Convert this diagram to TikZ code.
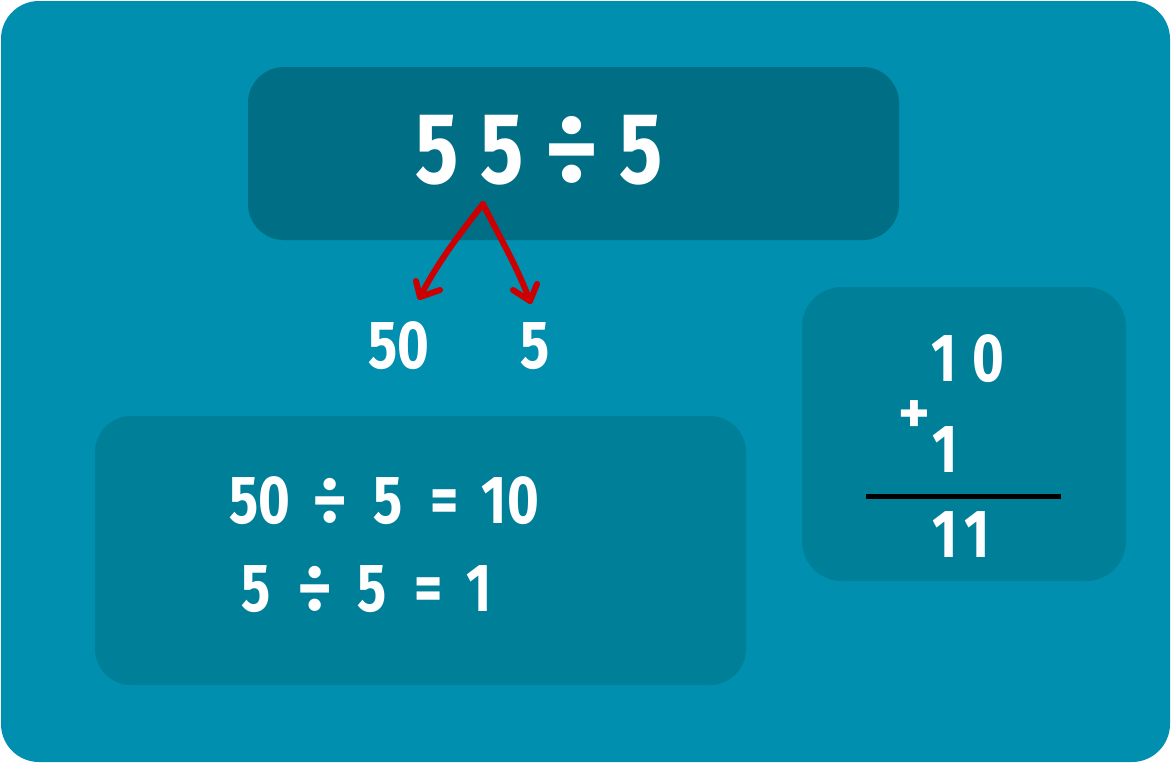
\documentclass[tikz,border=0pt]{standalone}
\usepackage{fontspec}
\setmainfont{Fira Sans}
\usetikzlibrary{calc}
\definecolor{bgc}{RGB}{0,143,175}
\definecolor{topc}{RGB}{0,110,132}
\definecolor{boxc}{RGB}{0,127,153}
\definecolor{arrc}{RGB}{204,0,0}
\newcommand{\cond}[1]{\scalebox{0.8}[1]{#1}}
\newcommand{\wdiv}[1]{\scalebox{#1}[1]{÷}}
\tikzset{
  panel/.style={fill=#1, draw=none, rounded corners=36pt, inner sep=0pt},
  num/.style={text=white, inner sep=0pt},
  bigtxt/.style={num, font=\fontsize{101}{101}\selectfont\bfseries},
  midtxt/.style={num, font=\fontsize{68}{68}\selectfont\bfseries},
  redline/.style={draw=arrc, line width=6pt, line cap=round, line join=round}
}
\begin{document}
\begin{tikzpicture}[x=1pt,y=-1pt]
\useasboundingbox (0,0) rectangle (1171,763);
\fill[white] (0,0) rectangle (1171,763);
\node[panel=bgc, minimum width=1169pt, minimum height=761pt, rounded corners=38pt] (frame) at (585.5,381.5) {};
\node[panel=topc, minimum width=651pt, minimum height=173pt] (top) at (573.5,153.5) {};
\node[panel=boxc, minimum width=324pt, minimum height=294pt, rounded corners=40pt] (right) at (964,434) {};
\node[panel=boxc, minimum width=651pt, minimum height=269pt] (low) at (420.5,550.5) {};
% top expression
\node[bigtxt] (expr) at (539,150) {\cond{5}\hspace{22pt}\cond{5}\hspace{20pt}\wdiv{1.05}\hspace{20pt}\cond{5}};
% split numbers
\node[midtxt] (n50) at (399,346) {\cond{50}};
\node[midtxt] (n5) at (535.5,346) {\cond{5}};
% red arrows
\coordinate (fork) at (483,204);
\coordinate (tipL) at (420,297);
\coordinate (tipR) at (530,301);
\draw[redline] (fork) .. controls (458,236) and (438,262) .. (tipL);
\draw[redline] (416,281) -- (tipL) -- (440,290);
\draw[redline] (fork) .. controls (500,238) and (515,262) .. (tipR);
\draw[redline] (513,290) -- (tipR) -- (537,284);
% equations
\node[midtxt] (eq1) at (384,501) {\cond{50}\hspace{22pt}\wdiv{1.0}\hspace{26pt}\cond{5}\hspace{28pt}\cond{=}\hspace{23pt}\cond{10}};
\node[midtxt] (eq2) at (367,589) {\cond{5}\hspace{26pt}\wdiv{1.0}\hspace{25pt}\cond{5}\hspace{28pt}\cond{=}\hspace{24pt}\cond{1}};
% addition
\node[midtxt] (a10) at (968,359) {\cond{1}\hspace{15pt}\cond{0}};
\node[num, font=\fontsize{60}{60}\selectfont\bfseries] (plus) at (914,417) {+};
\node[midtxt] (a1) at (945,450) {\cond{1}};
\draw[black, line width=5pt] (866,496) coordinate (rl) -- (1061,496) coordinate (rr);
\node[midtxt] (a11) at (961,535) {\cond{1}\hspace{6pt}\cond{1}};
\end{tikzpicture}
\end{document}
